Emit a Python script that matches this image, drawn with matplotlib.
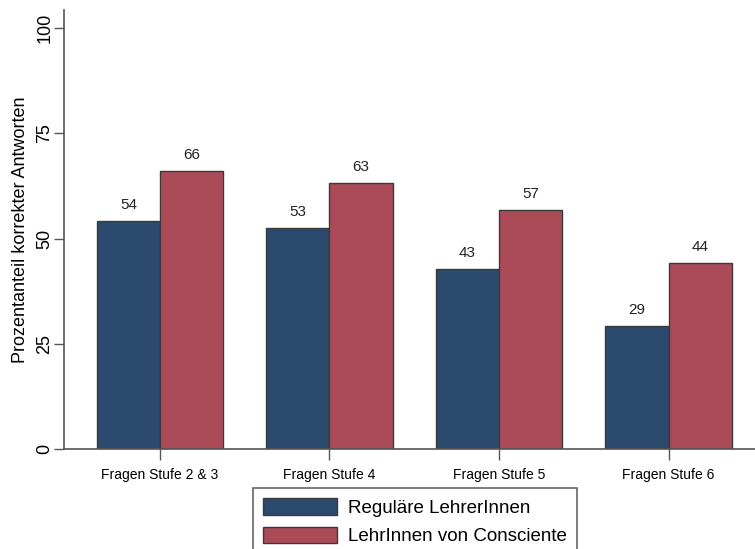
import numpy as np
import matplotlib.pyplot as plt

plt.rcParams["font.family"] = ["Liberation Sans", "DejaVu Sans"]

categories = ["Fragen Stufe 2 & 3", "Fragen Stufe 4", "Fragen Stufe 5", "Fragen Stufe 6"]
regular = [54.2, 52.6, 42.8, 29.3]
consciente = [66.1, 63.2, 56.9, 44.2]
series_names = ["Reguläre LehrerInnen", "LehrInnen von Consciente"]

blue = "#2b4a6d"
red = "#ab4b58"
edge = "#3a3a3a"

fig = plt.figure(figsize=(7.55, 5.49), dpi=100)
ax = fig.add_axes([64 / 755, 1 - 449 / 549, 1 - 64 / 755, 439 / 549])

x = np.arange(1, len(categories) + 1)
w = 0.372
ax.bar(x - w / 2, regular, w, color=blue, edgecolor=edge, linewidth=1, label=series_names[0])
ax.bar(x + w / 2, consciente, w, color=red, edgecolor=edge, linewidth=1, label=series_names[1])

for xi, v in zip(x - w / 2, regular):
    ax.text(xi, v + 2.1, f"{round(v)}", ha="center", va="bottom", fontsize=11, color="#222222")
for xi, v in zip(x + w / 2, consciente):
    ax.text(xi, v + 2.1, f"{round(v)}", ha="center", va="bottom", fontsize=11, color="#222222")

ax.set_xlim(0.434, 4.51)
ax.set_ylim(0, 104.3)
ax.set_yticks([0, 25, 50, 75, 100])
ax.set_yticklabels(["0", "25", "50", "75", "100"], rotation=90, va="center", fontsize=13)
ax.set_xticks(x)
ax.set_xticklabels(categories, fontsize=10)
ax.tick_params(axis="y", length=7, width=1, color="#555555", pad=0.5)
ax.tick_params(axis="x", length=8, width=1, color="#555555", pad=6)
for s in ["top", "right"]:
    ax.spines[s].set_visible(False)
for s in ["left", "bottom"]:
    ax.spines[s].set_color("#555555")
    ax.spines[s].set_linewidth(1.2)
ax.set_ylabel("Prozentanteil korrekter Antworten", fontsize=13)
ax.yaxis.set_label_coords(-0.051, 0.5)

leg = fig.legend(loc="upper center", bbox_to_anchor=(415 / 755, 1 - 488 / 549), ncol=1,
                 fontsize=13.5, handlelength=3.9, handleheight=1.0, fancybox=False,
                 edgecolor="#666666", framealpha=1, borderpad=0.55, labelspacing=0.5,
                 handletextpad=0.6, borderaxespad=0)
leg.get_frame().set_linewidth(1.2)

fig.savefig("out.png", dpi=100)
